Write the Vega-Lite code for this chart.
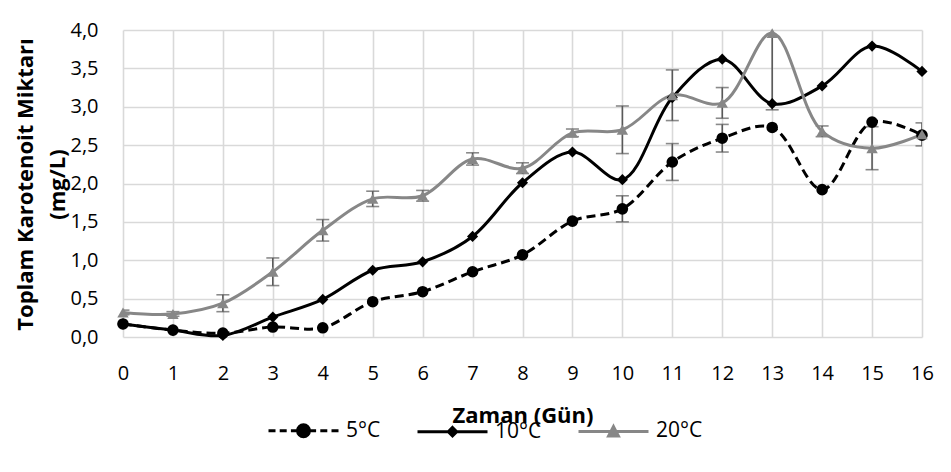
{
  "$schema": "https://vega.github.io/schema/vega-lite/v6.json",
  "width": 799,
  "height": 307,
  "autosize": {"type": "none"},
  "padding": {"left": 123, "top": 30, "right": 29, "bottom": 135},
  "background": "white",
  "config": {
    "font": "Open Sans",
    "view": {"stroke": null},
    "axis": {
      "grid": true,
      "gridColor": "#d9d9d9",
      "gridWidth": 1.6,
      "domain": false,
      "ticks": false,
      "labelColor": "#000000",
      "labelFontSize": 20,
      "titleColor": "#000000",
      "titleFontSize": 22,
      "titleFontWeight": "bold"
    }
  },
  "data": {
    "values": [
      {"day": 0, "series": "5°C", "value": 0.17, "err": null},
      {"day": 1, "series": "5°C", "value": 0.09, "err": null},
      {"day": 2, "series": "5°C", "value": 0.05, "err": null},
      {"day": 3, "series": "5°C", "value": 0.13, "err": null},
      {"day": 4, "series": "5°C", "value": 0.12, "err": null},
      {"day": 5, "series": "5°C", "value": 0.46, "err": null},
      {"day": 6, "series": "5°C", "value": 0.59, "err": null},
      {"day": 7, "series": "5°C", "value": 0.85, "err": null},
      {"day": 8, "series": "5°C", "value": 1.07, "err": null},
      {"day": 9, "series": "5°C", "value": 1.51, "err": null},
      {"day": 10, "series": "5°C", "value": 1.67, "err": 0.17},
      {"day": 11, "series": "5°C", "value": 2.28, "err": 0.24},
      {"day": 12, "series": "5°C", "value": 2.59, "err": 0.18},
      {"day": 13, "series": "5°C", "value": 2.73, "err": null},
      {"day": 14, "series": "5°C", "value": 1.92, "err": null},
      {"day": 15, "series": "5°C", "value": 2.80, "err": null},
      {"day": 16, "series": "5°C", "value": 2.63, "err": null},
      {"day": 0, "series": "10°C", "value": 0.17, "err": null},
      {"day": 1, "series": "10°C", "value": 0.09, "err": null},
      {"day": 2, "series": "10°C", "value": 0.02, "err": null},
      {"day": 3, "series": "10°C", "value": 0.26, "err": null},
      {"day": 4, "series": "10°C", "value": 0.49, "err": null},
      {"day": 5, "series": "10°C", "value": 0.87, "err": null},
      {"day": 6, "series": "10°C", "value": 0.98, "err": null},
      {"day": 7, "series": "10°C", "value": 1.31, "err": null},
      {"day": 8, "series": "10°C", "value": 2.01, "err": null},
      {"day": 9, "series": "10°C", "value": 2.41, "err": null},
      {"day": 10, "series": "10°C", "value": 2.05, "err": null},
      {"day": 11, "series": "10°C", "value": 3.12, "err": null},
      {"day": 12, "series": "10°C", "value": 3.62, "err": null},
      {"day": 13, "series": "10°C", "value": 3.04, "err": null},
      {"day": 14, "series": "10°C", "value": 3.27, "err": null},
      {"day": 15, "series": "10°C", "value": 3.79, "err": null},
      {"day": 16, "series": "10°C", "value": 3.46, "err": null},
      {"day": 0, "series": "20°C", "value": 0.32, "err": 0.03},
      {"day": 1, "series": "20°C", "value": 0.30, "err": 0.03},
      {"day": 2, "series": "20°C", "value": 0.44, "err": 0.11},
      {"day": 3, "series": "20°C", "value": 0.85, "err": 0.18},
      {"day": 4, "series": "20°C", "value": 1.39, "err": 0.14},
      {"day": 5, "series": "20°C", "value": 1.80, "err": 0.10},
      {"day": 6, "series": "20°C", "value": 1.84, "err": 0.07},
      {"day": 7, "series": "20°C", "value": 2.32, "err": 0.08},
      {"day": 8, "series": "20°C", "value": 2.20, "err": 0.07},
      {"day": 9, "series": "20°C", "value": 2.66, "err": 0.05},
      {"day": 10, "series": "20°C", "value": 2.70, "err": 0.31},
      {"day": 11, "series": "20°C", "value": 3.15, "err": 0.33},
      {"day": 12, "series": "20°C", "value": 3.05, "err": 0.20},
      {"day": 13, "series": "20°C", "value": 3.96, "err": 1.00},
      {"day": 14, "series": "20°C", "value": 2.68, "err": 0.07},
      {"day": 15, "series": "20°C", "value": 2.46, "err": 0.28},
      {"day": 16, "series": "20°C", "value": 2.64, "err": 0.15}
    ]
  },
  "encoding": {
    "x": {
      "field": "day",
      "type": "quantitative",
      "scale": {"domain": [0, 16], "nice": false, "zero": false},
      "axis": {
        "values": [0, 1, 2, 3, 4, 5, 6, 7, 8, 9, 10, 11, 12, 13, 14, 15, 16],
        "labelPadding": 26,
        "labelFlush": false,
        "title": "Zaman (Gün)",
        "titlePadding": 22
      }
    },
    "y": {
      "field": "value",
      "type": "quantitative",
      "scale": {"domain": [0, 4], "nice": false},
      "axis": {
        "values": [0, 0.5, 1, 1.5, 2, 2.5, 3, 3.5, 4],
        "labelExpr": "replace(format(datum.value, '.1f'), '.', ',')",
        "labelPadding": 25,
        "title": ["Toplam Karotenoit Miktarı", "(mg/L)"],
        "titleLineHeight": 32,
        "titleX": -86,
        "titleY": 154
      }
    }
  },
  "layer": [
    {
      "transform": [{"filter": "isValid(datum.err)"}],
      "mark": {
        "type": "errorbar",
        "color": "#595959",
        "thickness": 1.6,
        "clip": true,
        "ticks": {"size": 13, "thickness": 1.6, "color": "#595959"}
      },
      "encoding": {
        "yError": {"field": "err"},
        "detail": {"field": "series"}
      }
    },
    {
      "transform": [{"filter": "datum.series === '5°C'"}],
      "mark": {"type": "line", "interpolate": "catmull-rom", "strokeWidth": 3, "color": "#000000", "strokeDash": [9, 5]},
      "encoding": {}
    },
    {
      "transform": [{"filter": "datum.series !== '5°C'"}],
      "mark": {"type": "line", "interpolate": "catmull-rom", "strokeWidth": 3},
      "encoding": {
        "color": {
          "field": "series",
          "type": "nominal",
          "sort": ["5°C", "10°C", "20°C"],
          "scale": {"domain": ["5°C", "10°C", "20°C"], "range": ["#000000", "#000000", "#878787"]},
          "legend": {
            "title": null,
            "orient": "none",
            "direction": "horizontal",
            "legendX": 144,
            "legendY": 364,
            "padding": 0,
            "symbolType": "stroke",
            "symbolSize": 4900,
            "symbolStrokeWidth": 3,
            "labelFontSize": 21,
            "labelColor": "#000000",
            "labelOffset": 6,
            "columnPadding": 30,
            "encode": {
              "symbols": {
                "update": {
                  "shape": {"signal": "datum.value === '5°C' ? 'M-1,0H-0.8M-0.68,0H-0.48M-0.36,0H-0.2M0.2,0H0.36M0.48,0H0.68M0.8,0H1M-0.17,0A0.17,0.17,0,1,0,0.17,0A0.17,0.17,0,1,0,-0.17,0Z' : datum.value === '10°C' ? 'M-1,0H1M0,-0.12L0.12,0L0,0.12L-0.12,0Z' : 'M-1,0H1M0,-0.14L0.14,0.13L-0.14,0.13Z'"},
                  "fill": {"signal": "datum.value === '20°C' ? '#878787' : '#000000'"},
                  "stroke": {"signal": "datum.value === '20°C' ? '#878787' : '#000000'"},
                  "strokeWidth": {"value": 3},
                  "opacity": {"value": 1}
                }
              }
            }
          }
        }
      }
    },
    {
      "transform": [{"filter": "datum.series === '5°C'"}],
      "mark": {"type": "point", "shape": "circle", "filled": true, "size": 135, "opacity": 1, "color": "#000000"},
      "encoding": {}
    },
    {
      "transform": [{"filter": "datum.series === '10°C'"}],
      "mark": {"type": "point", "shape": "diamond", "filled": true, "size": 125, "opacity": 1, "color": "#000000"},
      "encoding": {}
    },
    {
      "transform": [{"filter": "datum.series === '20°C'"}],
      "mark": {"type": "point", "shape": "triangle-up", "filled": true, "size": 130, "opacity": 1, "color": "#878787"},
      "encoding": {}
    }
  ]
}
